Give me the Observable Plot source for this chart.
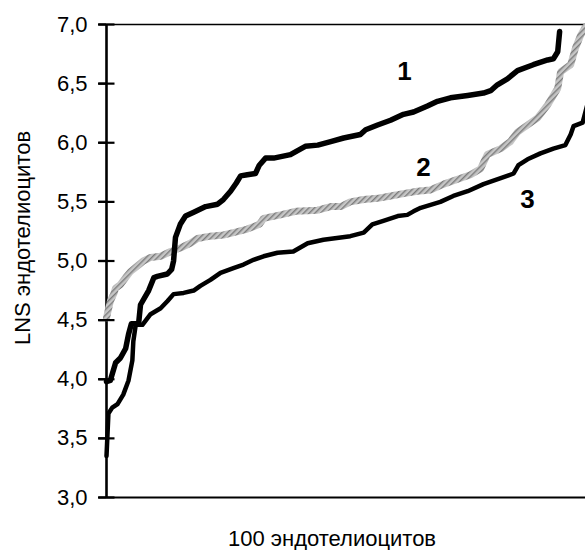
<!DOCTYPE html>
<html>
<head>
<meta charset="utf-8">
<script src="https://cdn.jsdelivr.net/npm/d3@7"></script>
<script src="https://cdn.jsdelivr.net/npm/@observablehq/plot@0.6"></script>
<style>
  html, body { margin: 0; padding: 0; background: #fff; }
  #chart svg { display: block; font-family: 'Liberation Sans', Arial, Helvetica, sans-serif; }
</style>
</head>
<body>
<div id="chart"></div>
<script>
// Y axis ticks and labels
const yTicks = [3.0, 3.5, 4.0, 4.5, 5.0, 5.5, 6.0, 6.5, 7.0];
const yTickLabels = ["3,0", "3,5", "4,0", "4,5", "5,0", "5,5", "6,0", "6,5", "7,0"];
const yTitle = "LNS эндотелиоцитов";
const xTitle = "100 эндотелиоцитов";

// Series 1 (thick black)
const s1x = [0, 0.8, 1.9, 2.9, 4.0, 4.6, 5.2, 6.7, 7.1, 8.8, 9.9, 10.6, 12.7, 13.6, 14.0, 14.4, 15.4, 16.5, 18.1, 20.7, 23.2, 24.4, 25.9, 27.1, 28.0, 29.4, 31.1, 31.9, 33.2, 34.9, 38.4, 41.5, 44.1, 46.8, 49.5, 53.0, 54.1, 56.6, 59.3, 62.0, 64.1, 67.0, 69.1, 71.8, 75.4, 78.7, 80.2, 81.6, 83.7, 85.8, 89.1, 92.1, 93.3, 94.2, 94.6];
const s1y = [3.98, 3.99, 4.14, 4.18, 4.26, 4.38, 4.47, 4.47, 4.63, 4.75, 4.86, 4.87, 4.89, 4.93, 5.00, 5.20, 5.31, 5.38, 5.41, 5.46, 5.48, 5.52, 5.59, 5.66, 5.72, 5.73, 5.74, 5.81, 5.87, 5.87, 5.90, 5.97, 5.98, 6.01, 6.04, 6.07, 6.11, 6.15, 6.19, 6.24, 6.26, 6.31, 6.35, 6.38, 6.40, 6.42, 6.44, 6.49, 6.54, 6.61, 6.66, 6.70, 6.71, 6.77, 6.94];

// Series 2 (grey hatched)
const s2x = [0, 0.8, 1.5, 1.9, 2.9, 4.0, 5.0, 6.5, 7.7, 9.2, 11.3, 13.4, 15.4, 17.5, 19.0, 21.7, 24.4, 26.5, 29.4, 31.9, 32.8, 36.3, 39.5, 44.1, 46.8, 48.9, 50.9, 53.7, 56.6, 59.3, 62.0, 64.9, 67.6, 70.4, 73.9, 76.0, 78.1, 79.5, 82.3, 84.3, 85.8, 87.9, 90.0, 92.1, 94.2, 94.8, 96.9, 97.9, 99.0, 100.0];
const s2y = [4.52, 4.66, 4.72, 4.77, 4.80, 4.86, 4.91, 4.96, 5.00, 5.03, 5.04, 5.08, 5.11, 5.15, 5.19, 5.21, 5.22, 5.24, 5.27, 5.31, 5.36, 5.39, 5.42, 5.43, 5.46, 5.46, 5.50, 5.52, 5.53, 5.55, 5.57, 5.59, 5.60, 5.65, 5.70, 5.73, 5.78, 5.90, 5.95, 6.01, 6.09, 6.15, 6.21, 6.32, 6.46, 6.60, 6.66, 6.80, 6.91, 6.98];

// Series 3 (black)
const s3x = [0, 0.4, 1.2, 2.3, 3.5, 4.6, 5.4, 5.6, 6.1, 7.5, 9.2, 11.3, 12.7, 14.0, 16.1, 18.2, 19.6, 21.7, 23.8, 26.5, 28.6, 30.7, 32.8, 35.7, 39.0, 42.0, 45.3, 50.9, 53.7, 55.5, 57.8, 60.8, 62.8, 64.1, 65.6, 69.7, 72.4, 75.4, 78.7, 82.3, 85.0, 86.0, 87.9, 90.6, 93.3, 95.8, 96.9, 97.5, 99.4, 100.5];
const s3y = [3.35, 3.71, 3.76, 3.79, 3.87, 3.99, 4.16, 4.32, 4.46, 4.46, 4.55, 4.60, 4.66, 4.72, 4.73, 4.75, 4.79, 4.84, 4.90, 4.94, 4.97, 5.01, 5.04, 5.07, 5.08, 5.15, 5.18, 5.21, 5.24, 5.31, 5.34, 5.38, 5.39, 5.42, 5.45, 5.50, 5.55, 5.59, 5.65, 5.70, 5.74, 5.81, 5.86, 5.91, 5.95, 5.98, 6.07, 6.14, 6.17, 6.34];

// Curve labels
const curveNames = ["1", "2", "3"];
const curveLabelX = [62.2, 66.2, 87.9];
const curveLabelY = [6.6, 5.79, 5.52];

const toRows = (xs, ys) => xs.map((x, i) => ({x, y: ys[i]}));
const d1 = toRows(s1x, s1y);
const d2 = toRows(s2x, s2y);
const d3 = toRows(s3x, s3y);
const labels = curveNames.map((t, i) => ({t, x: curveLabelX[i], y: curveLabelY[i]}));

const W = 585, ML = 106, MR = 0;
const xDomain = [0, 100];
// half-length of the cross ticks (8px) expressed in x units
const tickHalf = 8 / ((W - ML - MR) / (xDomain[1] - xDomain[0]));

const chart = Plot.plot({
  width: W,
  height: 550,
  marginLeft: ML,
  marginRight: MR,
  marginTop: 24,
  marginBottom: 53,
  x: {domain: xDomain, axis: null},
  y: {domain: [3, 7], axis: null},
  marks: [
    Plot.axisY({ticks: yTicks, tickSize: 8, tickPadding: 11, strokeWidth: 2.2, stroke: "#000", tickFormat: d => yTickLabels[yTicks.indexOf(d)], fontSize: 22, fill: "#000", label: null}),
    Plot.ruleY([7], {stroke: "#000", strokeWidth: 1.5}),
    Plot.ruleY([3], {stroke: "#000", strokeWidth: 2.2}),
    Plot.ruleX([0], {stroke: "#000", strokeWidth: 2.6}),
    Plot.line(d3, {x: "x", y: "y", stroke: "#000", strokeWidth: 4.5, strokeLinejoin: "round"}),
    Plot.line(d2, {x: "x", y: "y", stroke: "url(#hatch)", strokeWidth: 7, strokeLinejoin: "miter"}),
    Plot.line(d1, {x: "x", y: "y", stroke: "#000", strokeWidth: 5.5, strokeLinejoin: "round"}),
    Plot.text(labels, {x: "x", y: "y", text: "t", fontSize: 26, fontWeight: "bold", fill: "#000"}),
    Plot.text([yTitle], {frameAnchor: "left", rotate: -90, dx: -84, dy: -23, fontSize: 22, fill: "#000", textAnchor: "middle", lineAnchor: "middle"}),
    Plot.text([xTitle], {frameAnchor: "bottom", dx: -14, dy: 41, fontSize: 22, fill: "#000", textAnchor: "middle", lineAnchor: "middle"}),
    Plot.link(yTicks, {x1: () => xDomain[0] - tickHalf, x2: () => xDomain[0] + tickHalf, y1: d => d, y2: d => d, stroke: "#000", strokeWidth: 2.2})
  ]
});

// hatch pattern for series 2
const ns = "http://www.w3.org/2000/svg";
const defs = document.createElementNS(ns, "defs");
defs.innerHTML = '<pattern id="hatch" patternUnits="userSpaceOnUse" width="4" height="4" patternTransform="rotate(45)">' +
  '<rect width="4" height="4" fill="#c6c6c6"></rect><rect width="1.4" height="4" fill="#7c7c7c"></rect></pattern>';
chart.appendChild(defs);

document.getElementById("chart").appendChild(chart);
</script>
</body>
</html>
